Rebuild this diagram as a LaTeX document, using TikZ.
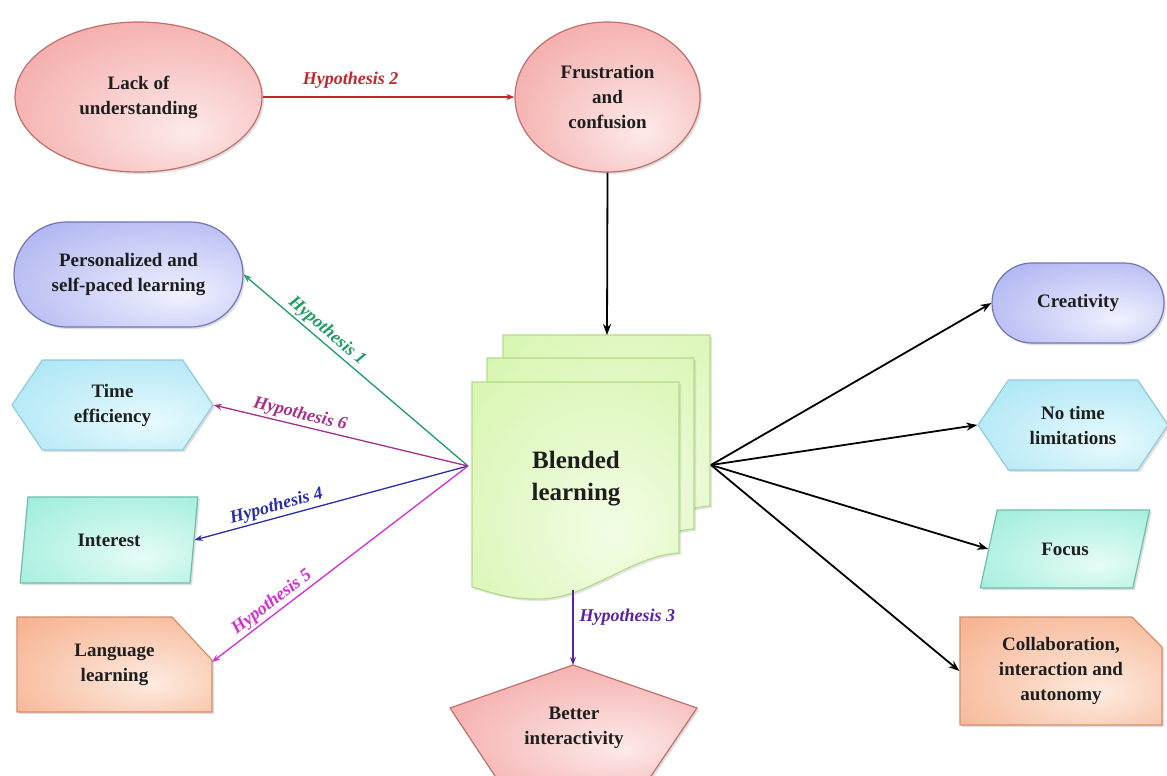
\documentclass[tikz,border=0pt]{standalone}
\usepackage{fontspec}
\setmainfont{Liberation Serif}
\usetikzlibrary{shapes.geometric,shapes.misc,shapes.symbols,shadows,arrows.meta}
\definecolor{pkA}{HTML}{F19A98}
\definecolor{pkB}{HTML}{FDEAEA}
\definecolor{pkD}{HTML}{C0706C}
\definecolor{blA}{HTML}{A3A9EE}
\definecolor{blB}{HTML}{F0F1FF}
\definecolor{blD}{HTML}{7176B6}
\definecolor{cyA}{HTML}{A0E2F3}
\definecolor{cyB}{HTML}{E8FAFE}
\definecolor{cyD}{HTML}{90CCDA}
\definecolor{mnA}{HTML}{94EBD8}
\definecolor{mnB}{HTML}{E6FCF7}
\definecolor{mnD}{HTML}{6FBDAA}
\definecolor{orA}{HTML}{F6AA84}
\definecolor{orB}{HTML}{FDEBE0}
\definecolor{orD}{HTML}{D38E6E}
\definecolor{gnA}{HTML}{D2F4A6}
\definecolor{gnB}{HTML}{F3FDE6}
\definecolor{gnD}{HTML}{B3DC88}
\definecolor{hRed}{HTML}{C0282E}
\definecolor{hGreen}{HTML}{1E9E62}
\definecolor{hPlum}{HTML}{A8308A}
\definecolor{hBlue}{HTML}{2A2EA6}
\definecolor{hMag}{HTML}{D62BD6}
\definecolor{hPurp}{HTML}{5A22A6}
\definecolor{txt}{HTML}{1E1E1E}
\pgfdeclareradialshading{pinkS}{\pgfpoint{10bp}{-12bp}}{color(0bp)=(pkB); color(46bp)=(pkA); color(75bp)=(pkA)}
\pgfdeclareradialshading{blueS}{\pgfpoint{12bp}{-10bp}}{color(0bp)=(blB); color(46bp)=(blA); color(75bp)=(blA)}
\pgfdeclareradialshading{cyanS}{\pgfpoint{10bp}{-10bp}}{color(0bp)=(cyB); color(46bp)=(cyA); color(75bp)=(cyA)}
\pgfdeclareradialshading{mintS}{\pgfpoint{10bp}{-10bp}}{color(0bp)=(mnB); color(46bp)=(mnA); color(75bp)=(mnA)}
\pgfdeclareradialshading{orS}{\pgfpoint{10bp}{-10bp}}{color(0bp)=(orB); color(46bp)=(orA); color(75bp)=(orA)}
\pgfdeclareradialshading{grS}{\pgfpoint{10bp}{-10bp}}{color(0bp)=(gnB); color(50bp)=(gnA); color(75bp)=(gnA)}
\begin{document}
\begin{tikzpicture}[x=1pt,y=-1pt,
  shbox/.style={font=\bfseries\fontsize{19}{25}\selectfont, text=txt, align=center,
    inner sep=2pt, line width=1.2pt,
    drop shadow={opacity=0.25, shadow xshift=2pt, shadow yshift=-2pt}},
  pinkbox/.style={shbox, draw=pkD, shade, shading=pinkS},
  bluebox/.style={shbox, draw=blD, shade, shading=blueS},
  cyanbox/.style={shbox, draw=cyD, shade, shading=cyanS},
  mintbox/.style={shbox, draw=mnD, shade, shading=mintS},
  orbox/.style={shbox, draw=orD, shade, shading=orS},
  pagebox/.style={draw=gnD, line width=1.2pt, shade, shading=grS,
    drop shadow={opacity=0.2, shadow xshift=2pt, shadow yshift=-2pt}},
  plain/.style={font=\bfseries\fontsize{19}{25}\selectfont, text=txt, align=center, inner sep=0pt},
  hyp/.style={font=\bfseries\itshape\fontsize{18}{20}\selectfont, inner sep=2pt},
  harr/.style={line width=1.3pt, -{Stealth[length=8pt,width=6pt]}},
  barr/.style={line width=1.8pt, black, -{Stealth[length=11pt,width=8pt]}}]

\clip (0,0) rectangle (1167,776);
\fill[white] (0,0) rectangle (1167,776);

% top ellipses
\node[pinkbox, ellipse, minimum width=247pt, minimum height=150pt] (lack) at (138.5,97) {Lack of\\understanding};
\node[pinkbox, ellipse, minimum width=185pt, minimum height=150pt] (frus) at (607.5,97) {Frustration\\and\\confusion};

% left column
\node[bluebox, rounded rectangle, minimum width=233pt, minimum height=105pt] (pers) at (128.5,274.5) {Personalized and\\self-paced learning};
\node[cyanbox, signal, signal to=west and east, signal pointer angle=112, minimum width=201pt, minimum height=90pt] (time) at (112.5,405) {Time\\efficiency};
\node[mintbox, trapezium, trapezium left angle=79, trapezium right angle=101, trapezium stretches=true, minimum width=178pt, minimum height=86pt] (inter) at (109,540) {Interest};
\path[orbox] (17,617) -- (172,617) -- (212,660) -- (212,712) -- (17,712) -- cycle;
\node[plain] (lang) at (114.5,665) {Language\\learning};
\coordinate (langE) at (212,662);

% right column
\node[bluebox, rounded rectangle, minimum width=176pt, minimum height=80pt] (creat) at (1078,303) {Creativity};
\node[cyanbox, signal, signal to=west and east, signal pointer angle=112, minimum width=190pt, minimum height=90pt] (notime) at (1073,425) {No time\\limitations};
\node[mintbox, trapezium, trapezium left angle=69, trapezium right angle=111, trapezium stretches=true, minimum width=170pt, minimum height=78pt] (focus) at (1065,549) {Focus};
\node[orbox, chamfered rectangle, chamfered rectangle corners=north east, chamfered rectangle xsep=14pt, chamfered rectangle ysep=16pt, minimum width=202pt, minimum height=108pt] (collab) at (1061,671) {Collaboration,\\interaction and\\autonomy};

% blended learning stack
\foreach \dx/\dy in {31/47, 15/24, 0/0}{
  \begin{scope}[shift={(\dx,-\dy)}]
    \path[pagebox] (472,382) -- (679,382) -- (679,553)
      .. controls (630,556) and (590,598) .. (540,599)
      .. controls (510,600) and (490,592) .. (472,587) -- cycle;
  \end{scope}
}
\node[plain, font=\bfseries\fontsize{25}{32}\selectfont] (blend) at (576,479) {Blended\\learning};
\coordinate (bl) at (468,466);
\coordinate (br) at (711,465);
\coordinate (bt) at (607,335);
\coordinate (bb) at (573,590);

% pentagon
\path[pinkbox] (573,665) -- (697,708) -- (649,779) -- (497,779) -- (450,708) -- cycle;
\node[plain] (better) at (574,728) {Better\\interactivity};
\coordinate (pent) at (573,665);

% connectors
\draw[harr, hRed] (lack) -- node[hyp, text=hRed, above=6pt, pos=0.35] {Hypothesis 2} (frus);
\draw[barr] (frus.south) -- (bt);
\draw[harr, hGreen] (bl) -- node[hyp, text=hGreen, sloped, above, pos=0.66] {Hypothesis 1} (pers.east);
\draw[harr, hPlum] (bl) -- node[hyp, text=hPlum, sloped, above, pos=0.67] {Hypothesis 6} (time.east);
\draw[harr, hBlue] (bl) -- node[hyp, text=hBlue, sloped, above, pos=0.69] {Hypothesis 4} (inter.east);
\draw[harr, hMag] (bl) -- node[hyp, text=hMag, sloped, above, pos=0.74] {Hypothesis 5} (langE);
\draw[harr, hPurp] (bb) -- node[hyp, text=hPurp, right=4pt, pos=0.36] {Hypothesis 3} (pent);
\draw[barr] (br) -- (creat.west);
\draw[barr] (br) -- (notime.west);
\draw[barr] (br) -- (focus.west);
\draw[barr] (br) -- (collab.west);
\end{tikzpicture}
\end{document}
